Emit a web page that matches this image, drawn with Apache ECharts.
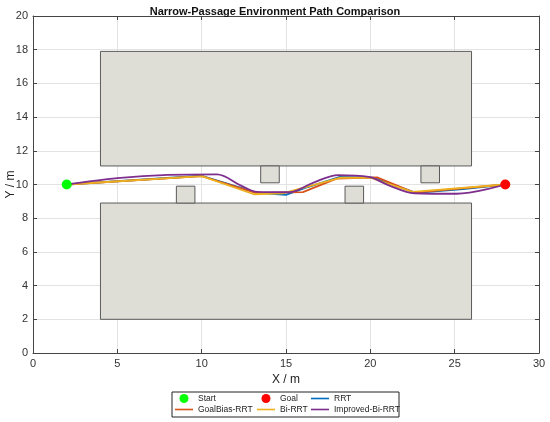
<!DOCTYPE html>
<html>
<head>
<meta charset="utf-8">
<script src="https://cdn.jsdelivr.net/npm/echarts@6/dist/echarts.min.js"></script>
<style>
  html, body { margin: 0; padding: 0; background: #fff; }
  #main { width: 550px; height: 422px; }
</style>
</head>
<body>
<div id="main"></div>
<script>
// obstacles as [x1, y1, x2, y2]
const obstacles = [
  [4, 11.1, 26, 17.9],
  [4, 2, 26, 8.9],
  [8.5, 8.9, 9.6, 9.9],
  [13.5, 10.1, 14.6, 11.1],
  [18.5, 8.9, 19.6, 9.9],
  [23, 10.1, 24.1, 11.1]
];

const startPt = [[2, 10]];
const goalPt = [[28, 10]];

const rrt = [
  [2, 10], [10, 10.52], [13.3, 9.5], [15, 9.38], [16.3, 9.85],
  [18.2, 10.45], [20.2, 10.4], [22.7, 9.5], [25.5, 9.72], [28, 10]
];
const goalBias = [
  [2, 10], [10, 10.5], [13.2, 9.5], [16, 9.55], [18, 10.35],
  [20.4, 10.42], [22.6, 9.52], [28, 10]
];
const biRrt = [
  [2, 10], [10, 10.5], [13.1, 9.42], [14.8, 9.48], [18.2, 10.4],
  [20, 10.4], [22.5, 9.56], [28, 10]
];
const improved = [
  [2, 10], [5, 10.38], [8, 10.57], [10.9, 10.6], [12.3, 9.95],
  [13.3, 9.56], [15.2, 9.54], [16.6, 10.1], [18.1, 10.56], [19.9, 10.45],
  [21.1, 9.95], [22.6, 9.48], [25.1, 9.45], [28, 10]
];

const xTicks = [0, 5, 10, 15, 20, 25, 30];
const yTicks = [0, 2, 4, 6, 8, 10, 12, 14, 16, 18, 20];

const chart = echarts.init(document.getElementById('main'));

const font = 'Liberation Sans, Arial, sans-serif';
const axisCol = '#444';
const lineIcon = 'path://M0,0 L20,0 L20,1.8 L0,1.8 Z';

function mainAxis(pos, name, ticks, labels) {
  return {
    type: 'value',
    position: pos,
    min: ticks[0],
    max: ticks[ticks.length - 1],
    interval: ticks[1] - ticks[0],
    name: labels ? name : '',
    nameLocation: 'middle',
    nameGap: pos === 'bottom' ? 21 : 16,
    nameMoveOverlap: false,
    nameTextStyle: { fontFamily: font, fontSize: 12, color: '#222' },
    axisLine: { show: true, onZero: false, lineStyle: { color: axisCol, width: 1 } },
    axisTick: { show: true, inside: true, length: 4, lineStyle: { color: axisCol } },
    axisLabel: { show: labels, fontFamily: font, fontSize: 11, color: '#333', margin: 5 },
    splitLine: { show: labels, lineStyle: { color: '#e3e3e3', width: 1 } }
  };
}

function legendCol(left, items) {
  return {
    orient: 'vertical', left: left, top: 394, itemGap: 2,
    itemWidth: 18, itemHeight: 9, padding: 0,
    textStyle: { fontFamily: font, fontSize: 8.5, color: '#222' },
    data: items
  };
}

const option = {
  animation: false,
  backgroundColor: '#fff',
  title: {
    text: 'Narrow-Passage Environment Path Comparison',
    left: 'center',
    top: 1,
    textStyle: { fontFamily: font, fontSize: 11, fontWeight: 'bold', color: '#111' }
  },
  grid: { left: 33, right: 11, top: 16, bottom: 69, containLabel: false, outerBoundsMode: 'none' },
  xAxis: [
    mainAxis('bottom', 'X / m', xTicks, true),
    mainAxis('top', '', xTicks, false)
  ],
  yAxis: [
    mainAxis('left', 'Y / m', yTicks, true),
    mainAxis('right', '', yTicks, false)
  ],
  graphic: [{
    type: 'rect',
    shape: { x: 172, y: 392, width: 227, height: 25 },
    style: { fill: '#fff', stroke: '#222', lineWidth: 1 },
    z: 0
  }],
  legend: [
    legendCol(175, [{ name: 'Start', icon: 'circle' }, { name: 'GoalBias-RRT', icon: lineIcon }]),
    legendCol(257, [{ name: 'Goal', icon: 'circle' }, { name: 'Bi-RRT', icon: lineIcon }]),
    legendCol(311, [{ name: 'RRT', icon: lineIcon }, { name: 'Improved-Bi-RRT', icon: lineIcon }])
  ],
  series: [
    {
      name: 'Obstacles',
      type: 'custom',
      silent: true,
      z: 1,
      data: obstacles,
      renderItem: function (params, api) {
        const p1 = api.coord([api.value(0), api.value(3)]);
        const p2 = api.coord([api.value(2), api.value(1)]);
        return {
          type: 'rect',
          shape: { x: p1[0], y: p1[1], width: p2[0] - p1[0], height: p2[1] - p1[1] },
          style: { fill: '#deded6', stroke: '#5a5a5a', lineWidth: 1 }
        };
      }
    },
    {
      name: 'RRT', type: 'line', data: rrt, symbol: 'none', z: 3,
      lineStyle: { color: '#0072BD', width: 1.8 }, itemStyle: { color: '#0072BD' }
    },
    {
      name: 'GoalBias-RRT', type: 'line', data: goalBias, symbol: 'none', z: 3,
      lineStyle: { color: '#D95319', width: 1.8 }, itemStyle: { color: '#D95319' }
    },
    {
      name: 'Bi-RRT', type: 'line', data: biRrt, symbol: 'none', z: 3,
      lineStyle: { color: '#EDB120', width: 1.8 }, itemStyle: { color: '#EDB120' }
    },
    {
      name: 'Improved-Bi-RRT', type: 'line', data: improved, symbol: 'none', smooth: 0.35, z: 4,
      lineStyle: { color: '#7E2F8E', width: 1.8 }, itemStyle: { color: '#7E2F8E' }
    },
    {
      name: 'Start', type: 'scatter', data: startPt, symbolSize: 10, z: 5,
      itemStyle: { color: '#00ff00', opacity: 1 }
    },
    {
      name: 'Goal', type: 'scatter', data: goalPt, symbolSize: 10, z: 5,
      itemStyle: { color: '#ff0000', opacity: 1 }
    }
  ]
};

chart.setOption(option);
</script>
</body>
</html>
